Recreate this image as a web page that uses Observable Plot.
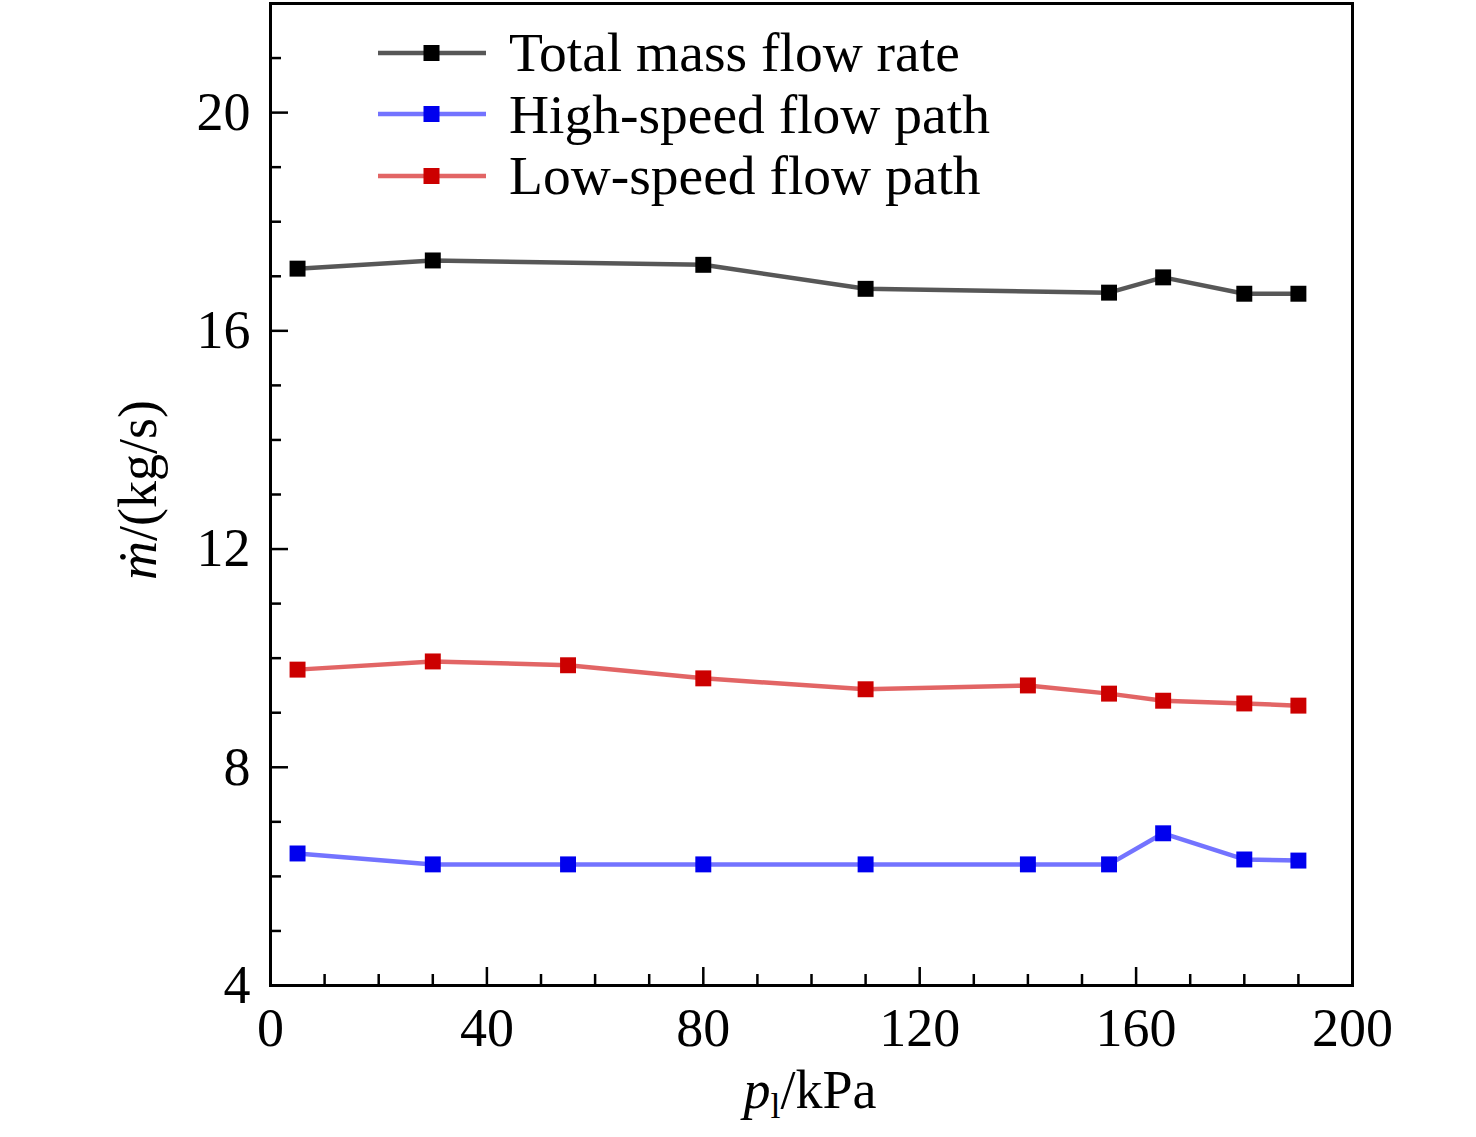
<!DOCTYPE html>
<html>
<head>
<meta charset="utf-8">
<script src="https://cdn.jsdelivr.net/npm/d3@7"></script>
<script src="https://cdn.jsdelivr.net/npm/@observablehq/plot@0.6"></script>
<style>
  html, body { margin: 0; padding: 0; background: #fff; }
  #wrap { position: relative; width: 1476px; height: 1137px; }
  #legend { position: absolute; left: 376px; top: 22px; font-family: "Liberation Serif", "Times New Roman", serif; font-size: 55.5px; color: #000; }
  #legend .row { display: flex; align-items: center; height: 61.5px; }
  #legend svg { margin-right: 21px; }
</style>
</head>
<body>
<div id="wrap">
  <div id="chart"></div>
  <div id="legend"></div>
</div>
<script>
// ---- data ----
const totalX = [5, 30, 80, 110, 155, 165, 180, 190];
const totalY = [17.14, 17.29, 17.21, 16.77, 16.70, 16.98, 16.68, 16.68];

const pathX = [5, 30, 55, 80, 110, 140, 155, 165, 180, 190];
const highY = [6.42, 6.22, 6.22, 6.22, 6.22, 6.22, 6.22, 6.79, 6.31, 6.29];
const lowY  = [9.79, 9.94, 9.87, 9.63, 9.43, 9.50, 9.35, 9.22, 9.17, 9.13];

const seriesNames = ["Total mass flow rate", "High-speed flow path", "Low-speed flow path"];
const lineColors  = ["#3a3a3a", "#5a5aff", "#dd4a4a"];
const dotColors   = ["#000000", "#0000ee", "#cc0000"];

const xTicks = [0, 40, 80, 120, 160, 200];
const xMinor = d3.range(0, 201, 10).filter(v => v % 40 !== 0);
const yTicks = [4, 8, 12, 16, 20];
const yMinor = d3.range(4, 23, 1).filter(v => v % 4 !== 0);

// ---- build table ----
const rows = [];
totalX.forEach((x, i) => rows.push({series: seriesNames[0], x, y: totalY[i]}));
pathX.forEach((x, i) => rows.push({series: seriesNames[1], x, y: highY[i]}));
pathX.forEach((x, i) => rows.push({series: seriesNames[2], x, y: lowY[i]}));

const W = 1476, H = 1137;
const mL = 270, mR = 124, mT = 3, mB = 152;
const plotW = W - mL - mR, plotH = H - mT - mB;
const major = 18, minor = 11;

const chart = Plot.plot({
  width: W, height: H,
  marginLeft: mL, marginRight: mR, marginTop: mT, marginBottom: mB,
  style: {fontFamily: "'Liberation Serif', 'Times New Roman', serif", fontSize: "54px", color: "#000", background: "#fff"},
  x: {domain: [0, 200]},
  y: {domain: [4, 22]},
  marks: [
    Plot.axisX({ticks: xTicks, tickSize: 0, tickPadding: 22, label: null, fontSize: 54}),
    Plot.axisY({ticks: yTicks, tickSize: 0, tickPadding: 20, label: null, fontSize: 54}),
    Plot.tickX(xTicks.slice(1, -1), {x: d => d, insetTop: plotH - major, stroke: "#000", strokeWidth: 2.5}),
    Plot.tickX(xMinor, {x: d => d, insetTop: plotH - minor, stroke: "#000", strokeWidth: 2.5}),
    Plot.tickY(yTicks.slice(1), {y: d => d, insetRight: plotW - major, stroke: "#000", strokeWidth: 2.5}),
    Plot.tickY(yMinor, {y: d => d, insetRight: plotW - minor, stroke: "#000", strokeWidth: 2.5}),
    ...seriesNames.map((s, i) => Plot.line(rows.filter(r => r.series === s), {x: "x", y: "y", stroke: lineColors[i], strokeWidth: 4.5, strokeOpacity: 0.85})),
    ...seriesNames.map((s, i) => Plot.dot(rows.filter(r => r.series === s), {x: "x", y: "y", symbol: "square", r: 9, fill: dotColors[i], stroke: "none"})),
    Plot.frame({stroke: "#000", strokeWidth: 3})
  ]
});
document.getElementById("chart").appendChild(chart);

// axis titles with mixed italic
const svg = d3.select(chart);
const ff = "'Liberation Serif', 'Times New Roman', serif";
const yl = svg.append("text")
  .attr("transform", "translate(156,490) rotate(-90)")
  .attr("text-anchor", "middle")
  .attr("font-family", ff).attr("font-size", 54).attr("fill", "#000");
yl.append("tspan").attr("font-style", "italic").text("ṁ");
yl.append("tspan").text("/(kg/s)");

const xl = svg.append("text")
  .attr("x", 810).attr("y", 1108)
  .attr("text-anchor", "middle")
  .attr("font-family", ff).attr("font-size", 54).attr("fill", "#000");
xl.append("tspan").attr("font-style", "italic").text("p");
xl.append("tspan").attr("font-size", 36).attr("dy", 10).text("l");
xl.append("tspan").attr("dy", -10).text("/kPa");

// legend
const leg = d3.select("#legend");
seriesNames.forEach((s, i) => {
  const row = leg.append("div").attr("class", "row");
  const sw = row.append("svg").attr("width", 112).attr("height", 20);
  sw.append("line").attr("x1", 2).attr("x2", 110).attr("y1", 10).attr("y2", 10)
    .attr("stroke", lineColors[i]).attr("stroke-width", 4.5).attr("stroke-opacity", 0.85);
  sw.append("rect").attr("x", 47.5).attr("y", 2).attr("width", 16).attr("height", 16).attr("fill", dotColors[i]);
  row.append("span").text(s);
});
</script>
</body>
</html>
